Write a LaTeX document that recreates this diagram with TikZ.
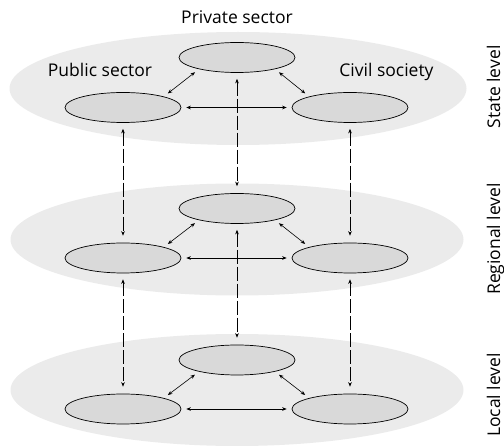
\documentclass[tikz,border=0pt]{standalone}
\usepackage{fontspec}
\setmainfont{Open Sans}
\usetikzlibrary{shapes.geometric,arrows.meta}
\tikzset{
    ebene/.style={ellipse, fill=black!8, inner sep=0pt},
    akteur/.style={ellipse, draw, fill=black!15, line width=.7pt,
        minimum width=116pt, minimum height=30pt, inner sep=0pt},
    pfeil/.style={{Stealth[length=4.5pt,width=3.6pt]}-{Stealth[length=4.5pt,width=3.6pt]},
        line width=.6pt, shorten <=5pt, shorten >=5pt},
    strich/.style={pfeil, dash pattern=on 14pt off 3pt, shorten <=6pt, shorten >=7pt},
    schrift/.style={font=\fontsize{17.5}{20}\selectfont, anchor=base}
}
\begin{document}
\begin{tikzpicture}[x=1pt,y=-1pt]
    \useasboundingbox (0,0) rectangle (504,446);
    %Ebenen
    \node[ebene, minimum width=457pt, minimum height=113pt] (staat) at (238,88.5) {};
    \node[ebene, minimum width=453pt, minimum height=112pt] (region) at (237,239.5) {};
    \node[ebene, minimum width=453pt, minimum height=112pt] (lokal) at (237,390) {};
    %Akteure
    \node[akteur] (t1) at (237,57.5) {};
    \node[akteur] (l1) at (123,107.5) {};
    \node[akteur] (r1) at (350,107.5) {};
    \node[akteur] (t2) at (237,208.5) {};
    \node[akteur] (l2) at (123,258) {};
    \node[akteur] (r2) at (350,258) {};
    \node[akteur] (t3) at (237,360) {};
    \node[akteur] (l3) at (123,409) {};
    \node[akteur] (r3) at (350,409) {};
    %Pfeile innerhalb der Ebenen
    \draw[pfeil] (l1.15) -- (t1.197);
    \draw[pfeil] (t1.343) -- (r1.165);
    \draw[pfeil] (l1) -- (r1);
    \draw[pfeil] (l2.15) -- (t2.197);
    \draw[pfeil] (t2.343) -- (r2.165);
    \draw[pfeil] (l2) -- (r2);
    \draw[pfeil] (l3.15) -- (t3.197);
    \draw[pfeil] (t3.343) -- (r3.165);
    \draw[pfeil] (l3) -- (r3);
    %Pfeile zwischen den Ebenen
    \draw[strich] (l1) -- (l2);
    \draw[strich] (t1) -- (t2);
    \draw[strich] (r1) -- (r2);
    \draw[strich] (l2) -- (l3);
    \draw[strich] (t2) -- (t3);
    \draw[strich] (r2) -- (r3);
    %Beschriftungen
    \node[schrift] (privat) at (237,24) {Private sector};
    \node[schrift] (oeffentlich) at (100,77) {Public sector};
    \node[schrift] (zivil) at (386.5,77) {Civil society};
    \node[schrift, rotate=90] (staatlabel) at (500,87) {State level};
    \node[schrift, rotate=90] (regionlabel) at (500,239) {Regional level};
    \node[schrift, rotate=90] (lokallabel) at (500,395) {Local level};
\end{tikzpicture}
\end{document}
